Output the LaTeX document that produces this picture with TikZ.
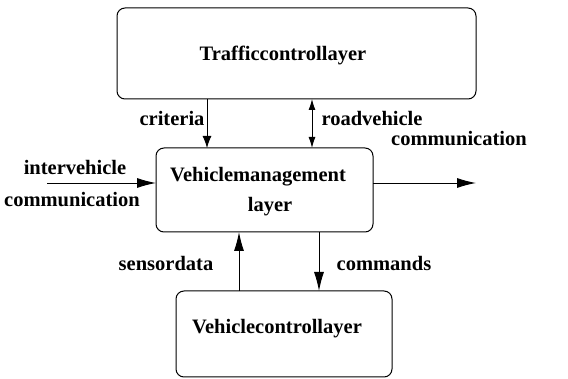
\documentclass[tikz,border=0pt]{standalone}
\usepackage{fontspec}
\setmainfont{Liberation Serif}
\usetikzlibrary{arrows.meta}
\begin{document}
\begin{tikzpicture}[x=1pt,y=-1pt,
  box/.style={draw, line width=1pt, rounded corners=8pt},
  lbl/.style={font=\fontsize{20.5}{22}\selectfont\bfseries, inner sep=0pt},
  conn/.style={line width=0.9pt},
  bigarr/.style={conn, -{Latex[length=19pt,width=10pt]}},
  smallarr/.style={conn, -{Latex[length=12pt,width=9pt]}},
  darr/.style={conn, {Latex[length=11pt,width=7pt]}-{Latex[length=11pt,width=7pt]}}]
\useasboundingbox (0,0) rectangle (568,379);
% boxes
\draw[box] (117,8) rectangle (476,99);
\draw[box] (156,148) rectangle (373,232);
\draw[box] (176,291) rectangle (392,377);
\node[lbl] (t1) at (283,55) {Trafficcontrollayer};
\node[lbl] (m1) at (258,177) {Vehiclemanagement};
\node[lbl] (m2) at (270,207) {layer};
\node[lbl] (b1) at (277,329) {Vehiclecontrollayer};
% top arrows
\coordinate (c1) at (207,99); \coordinate (c2) at (207,148);
\draw[smallarr] (c1) -- (c2);
\coordinate (r1) at (312,99); \coordinate (r2) at (312,148);
\draw[darr] (r1) -- (r2);
\node[lbl] (crit) at (172,118) {criteria};
\node[lbl] (rv) at (372,118) {roadvehicle};
\node[lbl] (rvc) at (459,139) {communication};
% side arrows
\coordinate (l1) at (47,183); \coordinate (l2) at (156,183);
\draw[bigarr] (l1) -- (l2);
\coordinate (s1) at (373,183); \coordinate (s2) at (476,183);
\draw[bigarr] (s1) -- (s2);
\node[lbl] (iv1) at (75,167) {intervehicle};
\node[lbl] (iv2) at (72,200) {communication};
% bottom arrows
\coordinate (u1) at (239,291); \coordinate (u2) at (239,232);
\draw[bigarr] (u1) -- (u2);
\coordinate (d1) at (319,232); \coordinate (d2) at (319,291);
\draw[bigarr] (d1) -- (d2);
\node[lbl] (sd) at (166,263) {sensordata};
\node[lbl] (cmd) at (384,263) {commands};
\end{tikzpicture}
\end{document}
